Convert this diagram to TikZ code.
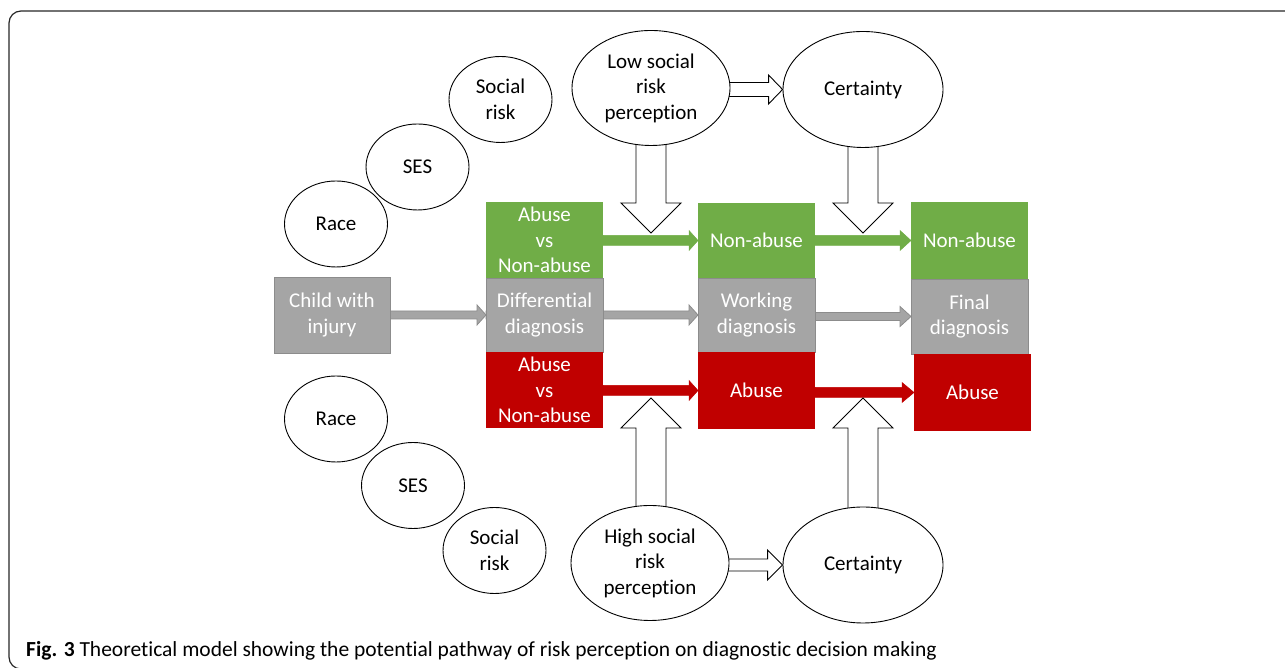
\documentclass[tikz,border=0pt]{standalone}
\usepackage{fontspec}
\setmainfont{Carlito}[Ligatures=CommonOff]
\usetikzlibrary{shapes,positioning,calc}
\pgfdeclarelayer{bg}
\pgfsetlayers{bg,main}

\definecolor{abgreen}{HTML}{70AD47}
\definecolor{abgray}{HTML}{A5A5A5}
\definecolor{abgrayline}{HTML}{8C8C8C}
\definecolor{abred}{HTML}{C00000}

% block arrows: style, from, to, shaft half width, head half width, head length
\newcommand{\hfat}[6]{%
  \path[#1] let \p1=#2, \p2=#3 in
    (\x1,{\y2-#4}) -- ({\x2-#6},{\y2-#4}) -- ({\x2-#6},{\y2-#5}) -- (\x2,\y2)
    -- ({\x2-#6},{\y2+#5}) -- ({\x2-#6},{\y2+#4}) -- (\x1,{\y2+#4}) -- cycle;}
\newcommand{\vfat}[6]{%
  \path[#1] let \p1=#2, \p2=#3 in
    ({\x2-#4},\y1) -- ({\x2-#4},{\y2+#6}) -- ({\x2-#5},{\y2+#6}) -- (\x2,\y2)
    -- ({\x2+#5},{\y2+#6}) -- ({\x2+#4},{\y2+#6}) -- ({\x2+#4},\y1) -- cycle;}

\begin{document}
\begin{tikzpicture}[x=1pt,y=1pt,
  every node/.style={font=\fontsize{21}{25.5}\selectfont},
  factor/.style={ellipse,draw,fill=white,line width=0.9pt,inner sep=0pt,
    minimum width=103pt,minimum height=86pt,align=center},
  percept/.style={factor,minimum width=158pt,minimum height=115pt},
  dxbox/.style={rectangle,inner sep=0pt,outer sep=0pt,minimum width=117pt,
    text=white,align=center},
  green/.style={dxbox,fill=abgreen,minimum height=76pt},
  mid/.style={dxbox,fill=abgray,draw=abgrayline,line width=0.8pt,minimum height=75pt},
  red/.style={dxbox,fill=abred,minimum height=77pt},
  hollow/.style={draw=black,fill=white,line width=0.9pt},
  gfill/.style={fill=abgreen,draw=abgreen,line width=0.5pt},
  mfill/.style={fill=abgray,draw=abgrayline,line width=0.8pt},
  rfill/.style={fill=abred,draw=abred,line width=0.5pt}]
  \clip (0,0) rectangle (1285,668);
  \draw[rounded corners=12pt,line width=1.2pt,black!85] (1300,657) -- (9,657) -- (9,-1) -- (1300,-1);

  % risk factors
  \node[factor] (soc1) at (500.5,568.5) {Social\\risk};
  \node[factor] (ses1) at (417.5,501) {SES};
  \node[factor] (race1) at (336,444) {Race};
  \node[factor] (race2) at (336,249) {Race};
  \node[factor] (ses2) at (413,182.5) {SES};
  \node[factor] (soc2) at (494.5,117.5) {Social\\risk};

  % perception and certainty
  \node[percept] (low) at (651,580) {Low social\\risk\\perception};
  \node[percept,minimum width=160pt,minimum height=116pt] (certtop) at (863,578.5) {Certainty};
  \node[percept] (high) at (650,105) {High social\\risk\\perception};
  \node[percept,minimum width=160pt,minimum height=116pt] (certbot) at (863,103) {Certainty};

  % diagnosis columns
  \node[dxbox,fill=abgray,draw=abgrayline,line width=0.8pt,minimum width=116pt,minimum height=76pt] (child) at (332,353) {Child with\\injury};
  \node[green] (c1g) at (544.5,428) {Abuse\\vs\\Non-abuse};
  \node[mid,below=0pt of c1g,minimum height=74pt] (c1m) {Differential\\diagnosis};
  \node[red,below=0pt of c1m,minimum height=76pt] (c1r) {Abuse\\vs\\Non-abuse};
  \node[green,minimum height=75pt] (c2g) at (756.5,427.5) {Non-abuse};
  \node[mid,below=0pt of c2g,minimum height=74pt] (c2m) {Working\\diagnosis};
  \node[red,below=0pt of c2m] (c2r) {Abuse};
  \node[green,minimum height=77pt] (c3g) at (969.5,427.5) {Non-abuse};
  \node[mid,below=0pt of c3g] (c3m) {Final\\diagnosis};
  \node[red,below=0pt of c3m,xshift=3pt] (c3r) {Abuse};

  \coordinate (lowtip) at (651,435);
  \coordinate (certtoptip) at (863,435);
  \coordinate (hightip) at (651,270);
  \coordinate (certbottip) at (863,270);

  \begin{pgfonlayer}{bg}
    \hfat{mfill}{(child.east)}{(c1m.west)}{4pt}{10pt}{9pt}
    \hfat{gfill}{(c1g.east)}{(c2g.west)}{5pt}{10pt}{9pt}
    \hfat{mfill}{(c1m.west)}{(c2m.west)}{4pt}{10pt}{9pt}
    \hfat{rfill}{(c1r.east)}{(c2r.west)}{5pt}{10pt}{9pt}
    \hfat{gfill}{(c2g.east)}{(c3g.west)}{5pt}{10pt}{11pt}
    \hfat{mfill}{(c2m.east)}{(c3m.west)}{4pt}{10pt}{11pt}
    \hfat{rfill}{(c2r.east)}{(c3r.west)}{5pt}{10pt}{12pt}
    \hfat{hollow}{(low.center)}{(certtop.west)}{7pt}{14.5pt}{14pt}
    \hfat{hollow}{(high.center)}{(certbot.west)}{6pt}{15pt}{15pt}
    \vfat{hollow}{(low.center)}{(lowtip)}{15pt}{30pt}{30pt}
    \vfat{hollow}{(certtop.center)}{(certtoptip)}{15pt}{30pt}{30pt}
    \vfat{hollow}{(high.center)}{(hightip)}{15pt}{30pt}{-30pt}
    \vfat{hollow}{(certbot.center)}{(certbottip)}{15pt}{30pt}{-30pt}
  \end{pgfonlayer}

  \node[anchor=base west,inner sep=0pt,font=\fontsize{21.5}{25}\selectfont] (cap) at (26,11)
    {\textbf{Fig. 3} Theoretical model showing the potential pathway of risk perception on diagnostic decision making};
\end{tikzpicture}
\end{document}
